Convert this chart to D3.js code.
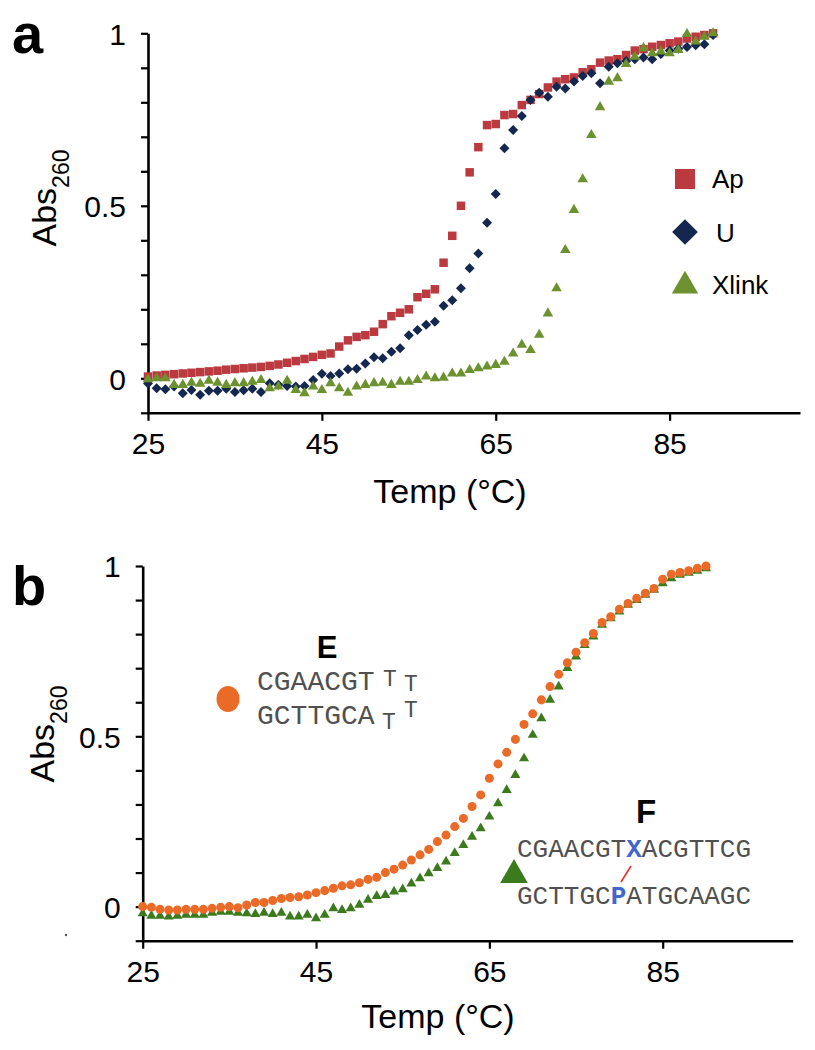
<!DOCTYPE html>
<html>
<head>
<meta charset="utf-8">
<script src="https://cdn.jsdelivr.net/npm/d3@7/dist/d3.min.js"></script>
<style>
  html, body { margin: 0; padding: 0; background: #fff; }
  svg { display: block; }
  text { font-family: "Liberation Sans", Arial, Helvetica, sans-serif; }
</style>
</head>
<body>
<div id="chart"></div>
<script>
// ---------------- DATA ----------------
// Panel a: temperatures (°C)
const tempsA = [
  25,26,27,28,29,30,31,32,33,34,35,36,37,38,39,40,41,42,43,44,
  45,46,47,48,49,50,51,52,53,54,55,56,57,58,59,60,61,62,63,64,
  65,66,67,68,69,70,71,72,73,74,75,76,77,78,79,80,81,82,83,84,
  85,86,87,88,89,90
];
const apValues = [
  0.005,0.008,0.010,0.012,0.014,0.016,0.018,0.020,0.022,0.025,
  0.027,0.029,0.031,0.033,0.036,0.040,0.045,0.050,0.056,0.062,
  0.068,0.072,0.092,0.110,0.120,0.125,0.135,0.157,0.180,0.190,
  0.200,0.235,0.245,0.258,0.335,0.413,0.500,0.597,0.670,0.734,
  0.737,0.763,0.766,0.792,0.807,0.824,0.843,0.860,0.867,0.872,
  0.887,0.896,0.915,0.921,0.925,0.937,0.950,0.954,0.961,0.966,
  0.971,0.976,0.985,0.990,0.995,1.000
];
const uValues = [
  -0.015,-0.029,-0.032,-0.024,-0.043,-0.034,-0.048,-0.036,-0.036,-0.030,
  -0.040,-0.035,-0.030,-0.040,-0.014,-0.019,-0.022,-0.024,-0.022,-0.005,
  0.013,0.007,0.014,0.026,0.028,0.043,0.061,0.058,0.077,0.087,
  0.125,0.140,0.155,0.164,0.210,0.226,0.261,0.319,0.362,0.451,
  0.534,0.667,0.720,0.760,0.807,0.828,0.816,0.845,0.840,0.860,
  0.876,0.884,0.855,0.903,0.913,0.920,0.925,0.930,0.925,0.940,
  0.950,0.955,0.960,0.965,0.968,0.995
];
const xlinkValues = [
  -0.003,0.000,0.000,-0.019,-0.019,-0.013,-0.016,-0.007,-0.013,-0.019,
  -0.014,-0.014,-0.010,-0.005,-0.029,-0.024,-0.007,-0.034,-0.043,-0.024,
  -0.034,-0.014,-0.029,-0.042,-0.024,-0.019,-0.014,-0.013,-0.019,-0.010,
  -0.010,-0.005,0.005,0.000,0.002,0.014,0.014,0.024,0.029,0.034,
  0.039,0.048,0.072,0.097,0.082,0.126,0.188,0.261,0.372,0.488,
  0.577,0.705,0.786,0.860,0.870,0.911,0.932,0.957,0.942,0.947,
  0.942,0.952,0.998,0.976,0.990,1.000
];
const seriesNamesA = ["Ap", "U", "Xlink"];

// Panel b
const tempsB = [
  25,26,27,28,29,30,31,32,33,34,35,36,37,38,39,40,41,42,43,44,
  45,46,47,48,49,50,51,52,53,54,55,56,57,58,59,60,61,62,63,64,
  65,66,67,68,69,70,71,72,73,74,75,76,77,78,79,80,81,82,83,84,
  85,86,87,88,89,90
];
const eValues = [
  0.000,-0.002,-0.008,-0.010,-0.010,-0.008,-0.008,-0.008,-0.005,-0.002,
  0.000,-0.003,0.005,0.012,0.012,0.018,0.024,0.027,0.029,0.034,
  0.041,0.047,0.054,0.061,0.064,0.070,0.080,0.086,0.100,0.110,
  0.122,0.137,0.152,0.168,0.191,0.210,0.235,0.259,0.294,0.328,
  0.377,0.419,0.453,0.491,0.535,0.566,0.607,0.646,0.682,0.716,
  0.747,0.775,0.802,0.834,0.851,0.873,0.890,0.905,0.920,0.934,
  0.961,0.976,0.981,0.986,0.993,1.000
];
const fValues = [
  -0.020,-0.027,-0.027,-0.029,-0.027,-0.024,-0.024,-0.024,-0.018,-0.015,
  -0.015,-0.018,-0.020,-0.022,-0.018,-0.022,-0.018,-0.029,-0.029,-0.024,
  -0.034,-0.024,-0.005,-0.010,-0.005,0.005,0.020,0.031,0.034,0.044,
  0.051,0.068,0.083,0.098,0.113,0.132,0.157,0.181,0.205,0.230,
  0.264,0.303,0.342,0.386,0.435,0.504,0.553,0.607,0.646,0.700,
  0.734,0.768,0.793,0.827,0.846,0.866,0.886,0.900,0.915,0.930,
  0.949,0.964,0.974,0.980,0.986,0.993
];

// Axes / ticks
const xTickValues = [25, 45, 65, 85];
const yTickValues = [-0.1, 0, 0.1, 0.2, 0.3, 0.4, 0.5, 0.6, 0.7, 0.8, 0.9, 1];
const yTickLabels = { "0": "0", "0.5": "0.5", "1": "1" };
const xDomain = [25, 100];
const yDomain = [-0.1, 1];

// Sequence annotations
const seqE = ["CGAACGT", "GCTTGCA"];
const seqF1 = ["CGAACGT", "X", "ACGTTCG"];
const seqF2 = ["GCTTGC", "P", "ATGCAAGC"];

// ---------------- DRAW ----------------
const W = 815, H = 1050;
const svg = d3.select("#chart").append("svg")
  .attr("width", W).attr("height", H)
  .attr("viewBox", `0 0 ${W} ${H}`);

const colors = {
  ap: "#BA3A40", u: "#14284F", xlink: "#6C912F",
  e: "#EA6A27", f: "#3C7A1E", seq: "#505050", blue: "#3F66CC"
};

function sym(type, size) { return d3.symbol().type(type).size(size)(); }

function drawAxes(g, x, y, ytitleCenter, xtitlePos) {
  const yAxis = d3.axisLeft(y)
    .tickValues(yTickValues)
    .tickSize(7).tickSizeOuter(0).tickPadding(15)
    .tickFormat(d => yTickLabels[String(+d.toFixed(1))] || "");
  const xAxis = d3.axisBottom(x)
    .tickValues(xTickValues)
    .tickSize(8).tickSizeOuter(0).tickPadding(12)
    .tickFormat(d3.format("d"));

  const gy = g.append("g").attr("transform", `translate(${x(xDomain[0])},0)`).call(yAxis);
  const gx = g.append("g").attr("transform", `translate(0,${y(yDomain[0])})`).call(xAxis);
  [gx, gy].forEach(a => {
    a.select(".domain").attr("stroke", "#000").attr("stroke-width", 2.6);
    a.selectAll(".tick line").attr("stroke", "#000").attr("stroke-width", 2.2);
    a.selectAll(".tick text").attr("fill", "#000")
      .style("font-family", "'Liberation Sans', Arial, sans-serif")
      .style("font-size", "30px");
  });
  gy.selectAll(".tick text").attr("dy", "0.36em");
  gx.selectAll(".tick text").attr("dy", "0.71em");

  // axis titles
  g.append("text")
    .attr("x", xtitlePos[0])
    .attr("y", xtitlePos[1])
    .attr("text-anchor", "middle")
    .style("font-size", "34px")
    .text("Temp (°C)");

  const yt = g.append("text")
    .attr("transform", `translate(${ytitleCenter[0]},${ytitleCenter[1]}) rotate(-90)`)
    .attr("text-anchor", "middle")
    .style("font-size", "34px");
  yt.append("tspan").text("Abs");
  yt.append("tspan").attr("dy", 13).style("font-size", "23px").text("260");
}

// ---------- Panel a ----------
const ga = svg.append("g");
const xa = d3.scaleLinear().domain(xDomain).range([148, 800]);
const ya = d3.scaleLinear().domain(yDomain).range([412.8, 33.3]);

drawAxes(ga, xa, ya, [56, 198], [450, 503]);

const seriesA = [
  { name: seriesNamesA[0], values: apValues, color: colors.ap, shape: d3.symbolSquare, size: 72, rot: 0 },
  { name: seriesNamesA[1], values: uValues, color: colors.u, shape: d3.symbolSquare, size: 50, rot: 45 },
  { name: seriesNamesA[2], values: xlinkValues, color: colors.xlink, shape: d3.symbolTriangle, size: 48, rot: 0 }
];
seriesA.forEach(s => {
  ga.append("g").selectAll("path").data(tempsA.map((t, i) => [t, s.values[i]]))
    .join("path")
    .attr("d", sym(s.shape, s.size))
    .attr("transform", d => `translate(${xa(d[0])},${ya(d[1])}) rotate(${s.rot})`)
    .attr("fill", s.color);
});

// legend
const legendA = [
  { name: seriesNamesA[0], color: colors.ap, shape: d3.symbolSquare, size: 400, rot: 0, cy: 179, tx: 712, ty: 188 },
  { name: seriesNamesA[1], color: colors.u, shape: d3.symbolSquare, size: 330, rot: 45, cy: 232, tx: 716, ty: 242 },
  { name: seriesNamesA[2], color: colors.xlink, shape: d3.symbolTriangle, size: 300, rot: 0, cy: 286, tx: 712, ty: 294 }
];
legendA.forEach(l => {
  ga.append("path").attr("d", sym(l.shape, l.size))
    .attr("transform", `translate(685,${l.cy}) rotate(${l.rot})`)
    .attr("fill", l.color);
  ga.append("text").attr("x", l.tx).attr("y", l.ty)
    .style("font-size", "26px").text(l.name);
});

ga.append("text").attr("x", 12).attr("y", 53)
  .style("font-size", "56px").style("font-weight", "bold").text("a");

// ---------- Panel b ----------
const gb = svg.append("g");
const xb = d3.scaleLinear().domain(xDomain).range([142.7, 792.7]);
const yb = d3.scaleLinear().domain(yDomain).range([940.7, 566]);

drawAxes(gb, xb, yb, [54, 734], [438, 1028]);

gb.append("g").selectAll("path").data(tempsB.map((t, i) => [t, fValues[i]]))
  .join("path")
  .attr("d", sym(d3.symbolTriangle, 44))
  .attr("transform", d => `translate(${xb(d[0])},${yb(d[1])})`)
  .attr("fill", colors.f);
gb.append("g").selectAll("path").data(tempsB.map((t, i) => [t, eValues[i]]))
  .join("path")
  .attr("d", sym(d3.symbolCircle, 64))
  .attr("transform", d => `translate(${xb(d[0])},${yb(d[1])})`)
  .attr("fill", colors.e);

gb.append("text").attr("x", 12).attr("y", 605)
  .style("font-size", "56px").style("font-weight", "bold").text("b");

// E annotation
gb.append("ellipse").attr("cx", 228).attr("cy", 699).attr("rx", 11.5).attr("ry", 13)
  .attr("fill", colors.e);
gb.append("text").attr("x", 327).attr("y", 658).attr("text-anchor", "middle")
  .style("font-size", "31px").style("font-weight", "bold").text("E");
const monoFont = "'Liberation Mono', 'DejaVu Sans Mono', monospace";
gb.append("text").attr("x", 257).attr("y", 690)
  .style("font-family", monoFont).style("font-size", "28px").attr("fill", colors.seq)
  .text(seqE[0]);
gb.append("text").attr("x", 257).attr("y", 724)
  .style("font-family", monoFont).style("font-size", "28px").attr("fill", colors.seq)
  .text(seqE[1]);
[[383, 686], [404, 691], [382, 729], [404, 717]].forEach(p => {
  gb.append("text").attr("x", p[0]).attr("y", p[1])
    .style("font-family", monoFont).style("font-size", "23px").attr("fill", colors.seq)
    .text("T");
});

// F annotation
gb.append("path").attr("d", sym(d3.symbolTriangle, 330))
  .attr("transform", "translate(514,875)").attr("fill", colors.f);
gb.append("text").attr("x", 646).attr("y", 823).attr("text-anchor", "middle")
  .style("font-size", "33px").style("font-weight", "bold").text("F");
function seqLine(parts, x, yy) {
  const t = gb.append("text").attr("x", x).attr("y", yy)
    .style("font-family", monoFont).style("font-size", "26px").attr("fill", colors.seq);
  parts.forEach((p, i) => {
    const ts = t.append("tspan").text(p);
    if (i === 1) ts.attr("fill", colors.blue).style("font-weight", "bold");
  });
}
seqLine(seqF1, 517, 857);
seqLine(seqF2, 517, 904);
gb.append("line").attr("x1", 631).attr("y1", 866).attr("x2", 621).attr("y2", 882)
  .attr("stroke", "#E53030").attr("stroke-width", 1.6);

// small stray dot in the original figure
svg.append("circle").attr("cx", 66).attr("cy", 935).attr("r", 1.2).attr("fill", "#555");
</script>
</body>
</html>
